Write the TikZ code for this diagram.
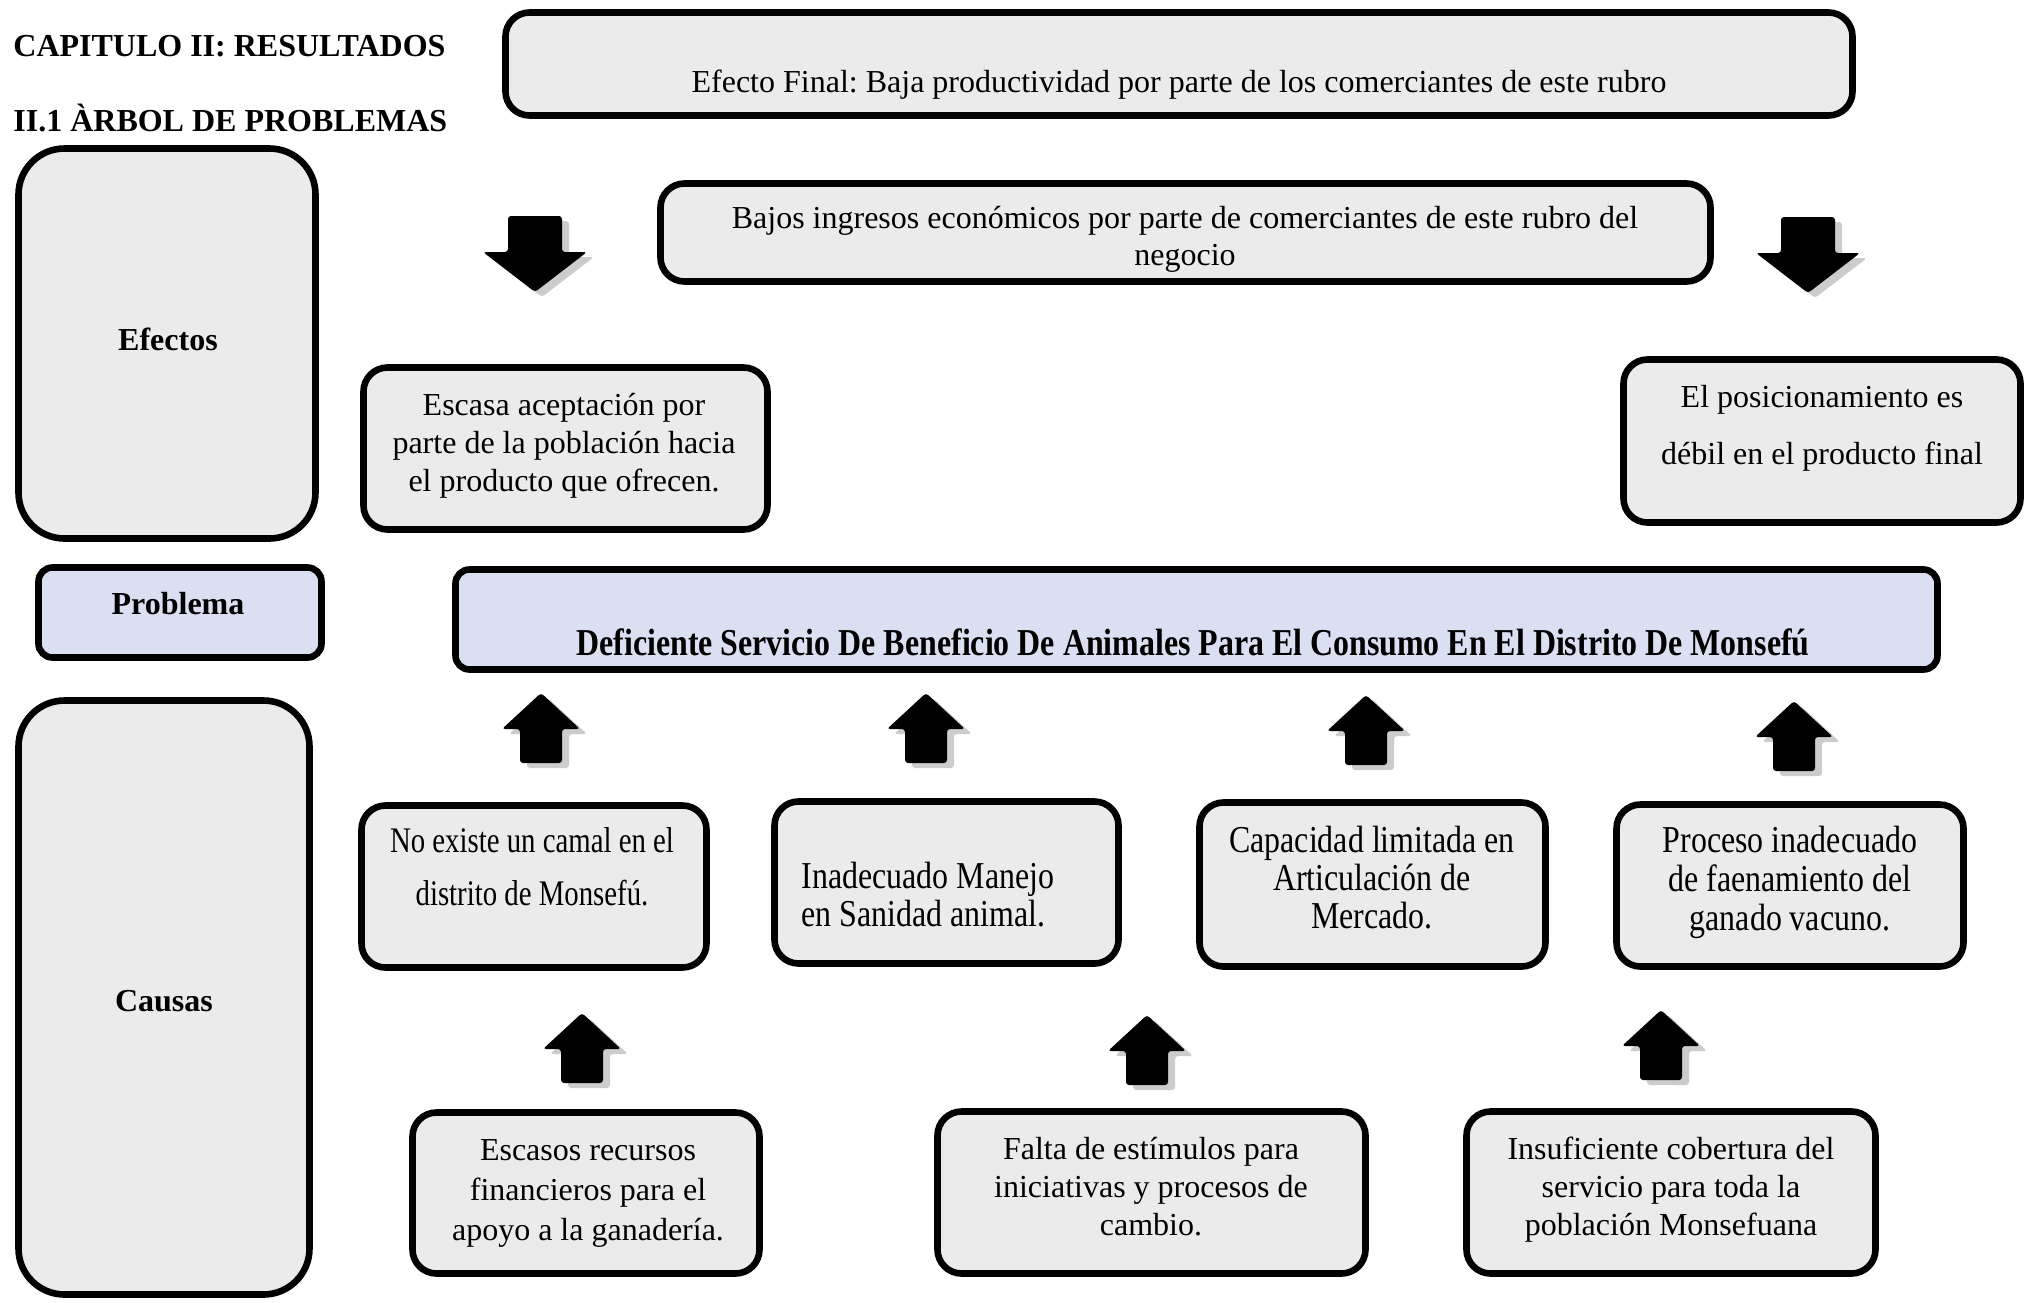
\documentclass[tikz,border=0pt]{standalone}
\usepackage{fontspec}
\setmainfont{Liberation Serif}
% tall, narrow variants used in some boxes
\newfontfamily\tallfont[FakeStretch=0.84]{Liberation Serif}
\newfontfamily\slimfont[FakeStretch=0.80]{Liberation Serif}
\usetikzlibrary{fit,shadows}
\definecolor{boxgray}{HTML}{EBEBEB}
\definecolor{boxblue}{HTML}{DAE0F2}
\frenchspacing

\begin{document}
\begin{tikzpicture}[x=0.5pt,y=-0.5pt,
  frame/.style={draw=black, line width=3.3pt, rounded corners=12pt, inner sep=0pt,
    fill=boxgray, fit={#1},
    drop shadow={shadow xshift=0.4pt, shadow yshift=-1.2pt, fill=black, opacity=0.15}},
  bluebox/.style={fill=boxblue, rounded corners=7pt},
  bigbox/.style={rounded corners=23pt},
  txt/.style={inner sep=0pt, align=center, font=\fontsize{16}{19}\selectfont},
  tall/.style={inner sep=0pt, align=center, font=\tallfont\fontsize{19}{19}\selectfont},
  head/.style={inner sep=0pt, font=\bfseries\fontsize{16}{19}\selectfont},
  arrowshadow/.style={drop shadow={shadow xshift=3.5pt, shadow yshift=-2.5pt, fill=gray, opacity=0.4}},
  downarrow/.pic={
    \fill[black, rounded corners=1.5pt, arrowshadow]
      (0,0) -- (-52,-40) -- (-27,-40) -- (-27,-76) -- (27,-76) -- (27,-40) -- (52,-40) -- cycle;},
  uparrow/.pic={
    \fill[black, rounded corners=1.5pt, arrowshadow]
      (0,0) -- (39,36) -- (21,36) -- (21,70) -- (-21,70) -- (-21,36) -- (-39,36) -- cycle;}
]
\useasboundingbox (0,0) rectangle (2025,1302);

% headings
\node[head, anchor=west] (cap) at (13,46) {CAPITULO II: RESULTADOS};
\node[head, anchor=west] (arb) at (13,118) {II.1 ÀRBOL DE PROBLEMAS};

% side labels
\node[frame={(18.5,148.5) (315.5,538.5)}, bigbox] (efx) {};
\node[head] (efx-t) at (168,339) {Efectos};
\node[frame={(38.5,567.5) (321.5,657.5)}, bluebox] (prb) {};
\node[head] (prb-t) at (178,604) {Problema};
\node[frame={(18.5,700.5) (309.5,1294.5)}, bigbox] (cau) {};
\node[head] (cau-t) at (164,1001) {Causas};

% effects
\node[frame={(505.5,12.5) (1852.5,115.5)}] (fin) {};
\node[txt] (fin-t) at (1179,85) {Efecto Final: Baja productividad por parte de los comerciantes de este rubro};
\node[frame={(660.5,183.5) (1710.5,281.5)}] (ing) {};
\node[txt, font=\fontsize{16}{18.5}\selectfont] (ing-t) at (1185,239)
  {Bajos ingresos económicos por parte de comerciantes de este rubro del\\negocio};
\node[frame={(363.5,367.5) (767.5,529.5)}] (ace) {};
\node[txt] (ace-t) at (564,446) {Escasa aceptación por\\parte de la población hacia\\el producto que ofrecen.};
\node[frame={(1623.5,359.5) (2020.5,522.5)}] (pos) {};
\node[txt, font=\fontsize{16}{28.5}\selectfont] (pos-t) at (1822,428) {El posicionamiento es\\débil en el producto final};

\pic at (535,292) {downarrow};
\pic at (1808,293) {downarrow};

% central problem
\node[frame={(455.5,569.5) (1937.5,669.5)}, bluebox] (def) {};
\node[tall, font=\tallfont\bfseries\fontsize{19}{19}\selectfont] (def-t) at (1193,642)
  {Deficiente Servicio De Beneficio De Animales Para El Consumo En El Distrito De Monsefú};

% direct causes
\pic at (541,693) {uparrow};
\pic at (926,693) {uparrow};
\pic at (1366,695) {uparrow};
\pic at (1794,701) {uparrow};

\node[frame={(361.5,805.5) (706.5,967.5)}] (c1) {};
\node[txt, font=\slimfont\fontsize{18}{26.5}\selectfont] (c1-t) at (532,867) {No existe un camal en el\\distrito de Monsefú.};
\node[frame={(774.5,801.5) (1118.5,963.5)}] (c2) {};
\node[tall, align=left] (c2-t) at (928,895) {Inadecuado Manejo\\en Sanidad animal.};
\node[frame={(1199.5,802.5) (1545.5,966.5)}] (c3) {};
\node[tall] (c3-t) at (1372,878) {Capacidad limitada en\\Articulación de\\Mercado.};
\node[frame={(1616.5,804.5) (1963.5,966.5)}] (c4) {};
\node[tall, font=\tallfont\fontsize{19}{19.5}\selectfont] (c4-t) at (1790,882) {Proceso inadecuado\\de faenamiento del\\ganado vacuno.};

% root causes
\pic at (582,1013) {uparrow};
\pic at (1147,1015) {uparrow};
\pic at (1661,1010) {uparrow};

\node[frame={(412.5,1112.5) (759.5,1273.5)}] (r1) {};
\node[txt, font=\fontsize{16}{20}\selectfont] (r1-t) at (588,1193) {Escasos recursos\\financieros para el\\apoyo a la ganadería.};
\node[frame={(937.5,1111.5) (1365.5,1273.5)}] (r2) {};
\node[txt] (r2-t) at (1151,1187) {Falta de estímulos para\\iniciativas y procesos de\\cambio.};
\node[frame={(1466.5,1111.5) (1875.5,1273.5)}] (r3) {};
\node[txt] (r3-t) at (1671,1190) {Insuficiente cobertura del\\servicio para toda la\\población Monsefuana};
\end{tikzpicture}
\end{document}
